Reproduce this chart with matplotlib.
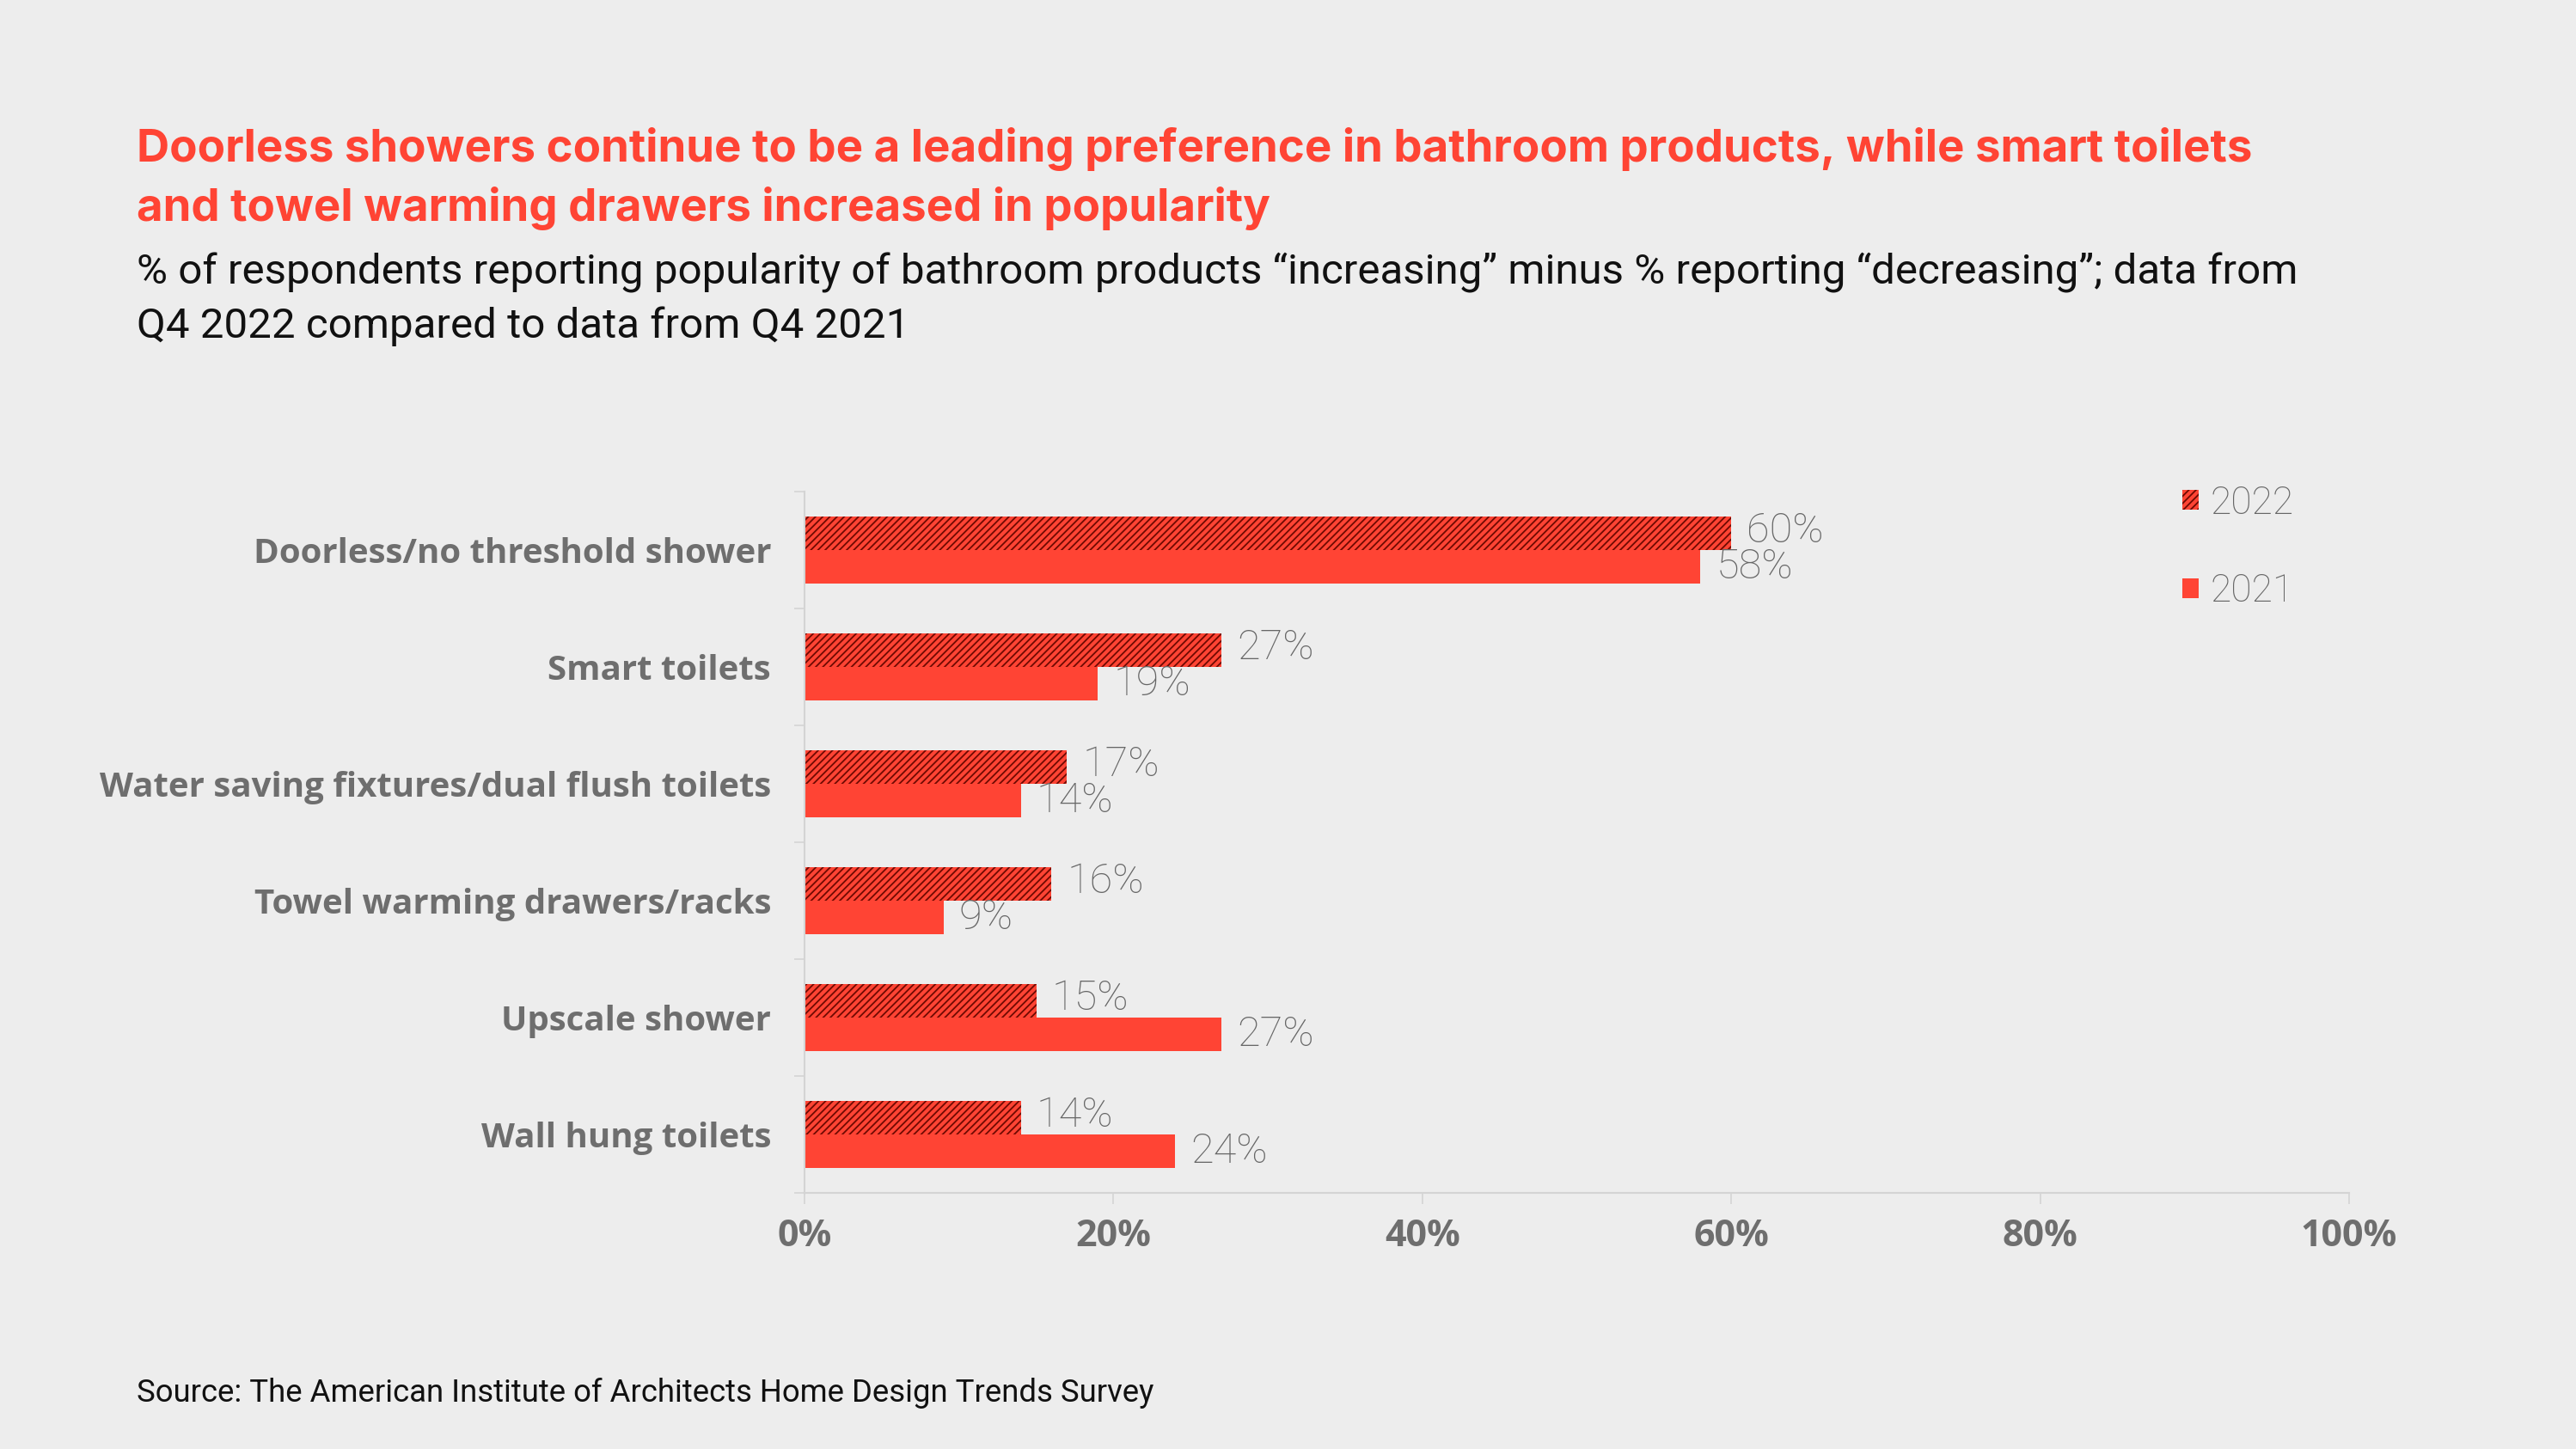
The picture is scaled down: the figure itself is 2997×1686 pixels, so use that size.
import matplotlib
matplotlib.use("Agg")
import matplotlib.pyplot as plt
import numpy as np

categories = ["Doorless/no threshold shower", "Smart toilets",
              "Water saving fixtures/dual flush toilets", "Towel warming drawers/racks",
              "Upscale shower", "Wall hung toilets"]
values_2022 = [60, 27, 17, 16, 15, 14]
values_2021 = [58, 19, 14, 9, 27, 24]
series_labels = ["2022", "2021"]
xticks = [0, 20, 40, 60, 80, 100]
xtick_labels = ["0%", "20%", "40%", "60%", "80%", "100%"]

title_lines = ["Doorless showers continue to be a leading preference in bathroom products, while smart toilets",
               "and towel warming drawers increased in popularity"]
subtitle_lines = ["% of respondents reporting popularity of bathroom products \u201cincreasing\u201d minus % reporting \u201cdecreasing\u201d; data from",
                  "Q4 2022 compared to data from Q4 2021"]
source = "Source: The American Institute of Architects Home Design Trends Survey"

BG = "#EDEDED"
RED = "#FF4434"
DARK = "#6E0A02"
GRAY = "#6E6E6E"
LABGRAY = "#666666"
SPINE = "#D4D4D4"

plt.rcParams['hatch.linewidth'] = 1.3
fig = plt.figure(figsize=(29.97, 16.86), dpi=100, facecolor=BG)
ax = fig.add_axes([0.3123, 0.1768, 0.5996, 0.4840], facecolor=BG)

y = np.arange(len(categories))
h = 0.285
b22 = ax.barh(y - h / 2, values_2022, height=h, color=RED, edgecolor=DARK,
              linewidth=0, hatch="////", label=series_labels[0])
b21 = ax.barh(y + h / 2, values_2021, height=h, color=RED, linewidth=0,
              label=series_labels[1])

lab_font = dict(fontsize=35, color=LABGRAY, family="Roboto", fontweight="light")
for yy, v in zip(y, values_2022):
    ax.text(v + 1.0, yy - h / 2 - 0.02, f"{v}%", va="center", ha="left", **lab_font)
for yy, v in zip(y, values_2021):
    ax.text(v + 1.0, yy + h / 2 + 0.0, f"{v}%", va="center", ha="left", **lab_font)

ax.set_xlim(0, 100)
ax.set_ylim(len(categories) - 0.5, -0.5)
ax.set_yticks(y)
ax.set_yticklabels(categories, fontsize=29, fontweight="bold", color=GRAY, family="Open Sans")
ax.set_yticks(np.arange(-0.5, len(categories) + 0.5, 1), minor=True)
ax.tick_params(axis="y", which="major", length=0, pad=28)
ax.tick_params(axis="y", which="minor", length=9, width=1.2, color=SPINE, direction="out")
ax.set_xticks(xticks)
ax.set_xticklabels(xtick_labels, fontsize=31, fontweight="bold", color=GRAY, family="Open Sans")
ax.tick_params(axis="x", length=9, width=1.2, color=SPINE, pad=12)

for s in ["top", "right"]:
    ax.spines[s].set_visible(False)
for s in ["left", "bottom"]:
    ax.spines[s].set_color(SPINE)
    ax.spines[s].set_linewidth(1.5)

leg = ax.legend(handles=[b22, b21], loc="upper left", bbox_to_anchor=(0.834, 0.689),
                bbox_transform=fig.transFigure, frameon=False,
                handlelength=0.42, handleheight=0.42, handletextpad=0.3, labelspacing=1.35,
                prop={"family": "Roboto", "weight": "light", "size": 32})
for t in leg.get_texts():
    t.set_color(LABGRAY)

fig.text(0.053, 0.897, title_lines[0], fontsize=38, fontweight="bold", color=RED,
         family="Inter", va="center", ha="left")
fig.text(0.053, 0.856, title_lines[1], fontsize=38, fontweight="bold", color=RED,
         family="Inter", va="center", ha="left")
fig.text(0.053, 0.812, subtitle_lines[0], fontsize=35.5, color="#111111",
         family="Roboto", va="center", ha="left")
fig.text(0.053, 0.775, subtitle_lines[1], fontsize=35.5, color="#111111",
         family="Roboto", va="center", ha="left")
fig.text(0.053, 0.0386, source, fontsize=26.3, color="#111111", family="Roboto",
         va="center", ha="left")

fig.savefig("out.png", dpi=100, facecolor=BG)
